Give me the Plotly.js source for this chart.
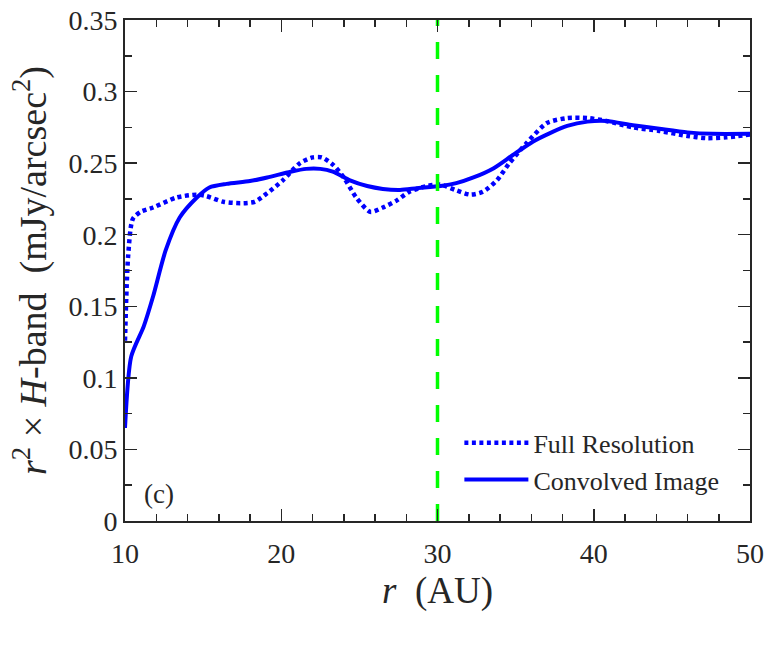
<!DOCTYPE html>
<html>
<head>
<meta charset="utf-8">
<script src="https://cdn.plot.ly/plotly-3.0.1.min.js"></script>
<style>html,body{margin:0;padding:0;background:#fff;}#chart{width:771px;height:657px;}</style>
</head>
<body>
<div id="chart"></div>
<script>
// Full Resolution profile
const rFull = [10.0, 10.2, 10.5, 11.0, 11.8, 13.3, 14.6, 15.2, 16.3, 17.4, 18.3, 19.1, 20.1, 21.2, 22.0, 22.6, 23.3, 24.0, 24.8, 25.7, 26.5, 27.4, 28.2, 29.3, 30.2, 31.2, 32.1, 32.9, 33.8, 34.6, 35.7, 37.0, 38.3, 39.6, 40.8, 42.5, 44.2, 46.0, 47.2, 48.5, 50.0];
const vFull = [0.126, 0.185, 0.211, 0.216, 0.219, 0.226, 0.228, 0.227, 0.223, 0.222, 0.223, 0.229, 0.238, 0.250, 0.254, 0.254, 0.249, 0.240, 0.226, 0.216, 0.219, 0.224, 0.230, 0.234, 0.235, 0.231, 0.228, 0.230, 0.238, 0.250, 0.264, 0.278, 0.2815, 0.2815, 0.2795, 0.275, 0.2725, 0.269, 0.2675, 0.268, 0.270];
// Convolved Image profile
const rConv = [10.0, 10.4, 11.2, 11.8, 12.6, 13.5, 14.6, 15.4, 16.5, 18.0, 19.1, 20.6, 21.6, 22.5, 23.3, 24.4, 25.5, 26.5, 27.6, 28.7, 30.2, 31.2, 32.3, 33.6, 34.8, 36.1, 37.2, 38.3, 39.6, 40.8, 42.5, 44.2, 46.0, 47.6, 50.0];
const vConv = [0.065, 0.115, 0.136, 0.157, 0.189, 0.212, 0.226, 0.233, 0.2355, 0.2375, 0.240, 0.244, 0.246, 0.246, 0.244, 0.238, 0.234, 0.232, 0.2313, 0.2325, 0.234, 0.236, 0.240, 0.2465, 0.2555, 0.265, 0.271, 0.276, 0.279, 0.2795, 0.2765, 0.274, 0.2715, 0.2705, 0.2705];
// Vertical marker radius (AU)
const markerR = [30, 30];
const markerV = [0, 0.35];
const seriesNames = ['Full Resolution', 'Convolved Image'];
const xTicks = [10, 20, 30, 40, 50];
const yTicks = [0, 0.05, 0.1, 0.15, 0.2, 0.25, 0.3, 0.35];
const yTickText = ['0', '0.05', '0.1', '0.15', '0.2', '0.25', '0.3', '0.35'];

const serif = 'Liberation Serif';
const axisCommon = {
  showgrid: false, zeroline: false, showline: true, linecolor: '#262626', linewidth: 2,
  mirror: 'allticks', ticks: 'inside', ticklen: 12, tickwidth: 1.5, tickcolor: '#262626',
  tickfont: {family: serif, size: 28, color: '#262626'}
};

const traces = [
  {x: rFull, y: vFull, name: seriesNames[0], mode: 'lines', line: {color: '#0000ff', width: 4.5, dash: '4px,3.5px', shape: 'spline', smoothing: 0.7}},
  {x: rConv, y: vConv, name: seriesNames[1], mode: 'lines', line: {color: '#0000ff', width: 4, shape: 'spline', smoothing: 0.7}},
  {x: markerR, y: markerV, mode: 'lines', showlegend: false, hoverinfo: 'skip', line: {color: '#00ff00', width: 3.5, dash: '17px,16px'}}
];

const layout = {
  width: 771, height: 657,
  margin: {l: 125, r: 21, t: 20, b: 136},
  paper_bgcolor: '#fff', plot_bgcolor: '#fff',
  font: {family: serif, color: '#262626'},
  showlegend: true,
  legend: {x: 0.535, y: 0.203, xanchor: 'left', yanchor: 'top', bgcolor: 'rgba(0,0,0,0)', borderwidth: 0,
           font: {family: serif, size: 26, color: '#262626'}, itemwidth: 64, tracegroupgap: 0},
  xaxis: Object.assign({}, axisCommon, {
    range: [10, 50], tickvals: xTicks, ticktext: xTicks.map(String), ticklabelstandoff: 6,
    minor: {dtick: 2, ticks: 'inside', ticklen: 7, tickwidth: 1.5, tickcolor: '#262626'},
    title: {text: '<i>r</i>  (AU)', font: {family: serif, size: 37, color: '#262626'}, standoff: 10}
  }),
  yaxis: Object.assign({}, axisCommon, {
    range: [0, 0.35], tickvals: yTicks, ticktext: yTickText,
    minor: {dtick: 0.025, ticks: 'inside', ticklen: 7, tickwidth: 1.5, tickcolor: '#262626'},
    title: {text: '<i>r</i><sup>2</sup> × <i>H</i>-band  (mJy/arcsec<sup>2</sup>)', font: {family: serif, size: 38, color: '#262626'}, standoff: 10}
  }),
  annotations: [
    {xref: 'paper', yref: 'paper', x: 0.055, y: 0.054, xanchor: 'center', yanchor: 'middle', showarrow: false,
     text: '(c)', font: {family: serif, size: 27, color: '#262626'}}
  ]
};

Plotly.newPlot('chart', traces, layout, {displayModeBar: false, staticPlot: true});
</script>
</body>
</html>
